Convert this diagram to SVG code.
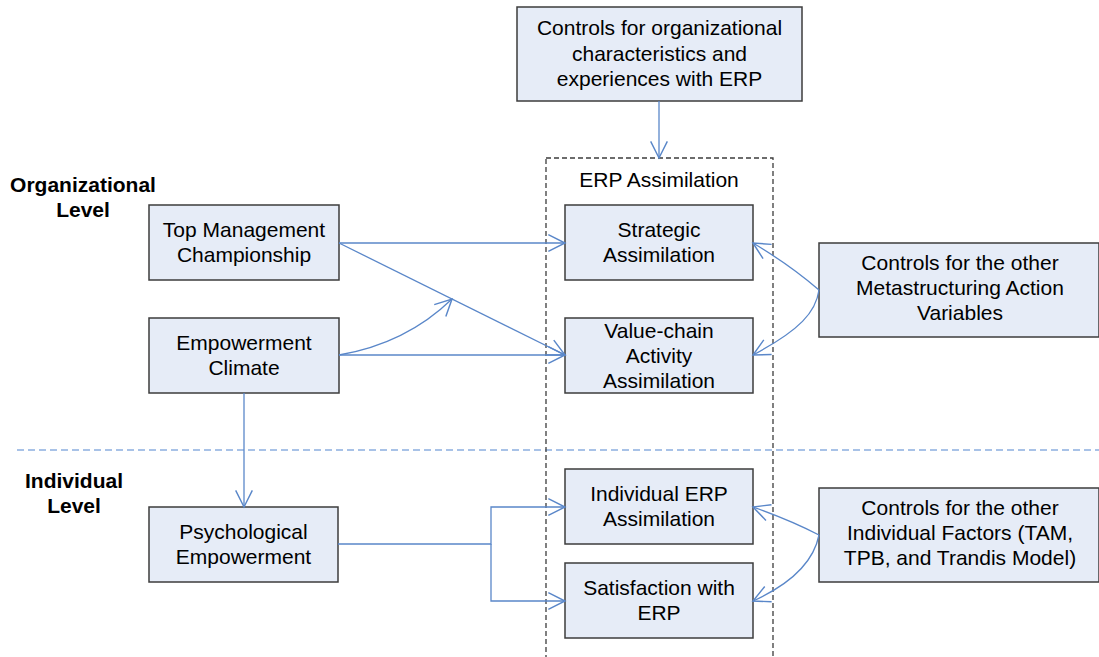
<svg xmlns="http://www.w3.org/2000/svg" width="1099" height="657" viewBox="0 0 1099 657">
  <defs>
    <marker id="arrow" markerUnits="userSpaceOnUse" markerWidth="20" markerHeight="20" viewBox="-16 -9 18 18" refX="0" refY="0" orient="auto">
      <path d="M-15,-7.5 L0,0 L-15,7.5" fill="none" stroke="#5A87C9" stroke-width="1.3"/>
    </marker>
    <style>
      .node { fill: #E6ECF7; stroke: #3C3C3C; stroke-width: 1.5; }
      .label { font-family: "Liberation Sans", Arial, sans-serif; font-size: 21px; fill: #000; text-anchor: middle; }
      .level { font-family: "Liberation Sans", Arial, sans-serif; font-size: 21px; font-weight: bold; fill: #000; text-anchor: middle; }
      .edge { fill: none; stroke: #5A87C9; stroke-width: 1.3; }
      .arrowed { marker-end: url(#arrow); }
      .container { fill: none; stroke: #3C3C3C; stroke-width: 1.3; stroke-dasharray: 5 3; }
      .divider { fill: none; stroke: #8CAEE0; stroke-width: 1.5; stroke-dasharray: 7 4; }
    </style>
  </defs>

  <rect width="1099" height="657" fill="#FFFFFF"/>

  <!-- level labels -->
  <g id="level-labels">
    <text class="level" x="83" y="192">Organizational</text>
    <text class="level" x="83" y="217">Level</text>
    <text class="level" x="74" y="488">Individual</text>
    <text class="level" x="74" y="513">Level</text>
  </g>

  <!-- divider between the two levels -->
  <line class="divider" x1="17" y1="450" x2="1099" y2="450"/>

  <!-- ERP assimilation container -->
  <g id="erp-assimilation">
    <rect class="container" x="546" y="158" width="227" height="520"/>
    <text class="label" x="659" y="187">ERP Assimilation</text>
  </g>

  <g id="org-controls">
    <rect class="node" x="517" y="7" width="285" height="94"/>
    <text class="label" x="659.5" y="35">Controls for organizational</text>
    <text class="label" x="659.5" y="60.5">characteristics and</text>
    <text class="label" x="659.5" y="86">experiences with ERP</text>
  </g>

  <g id="top-management">
    <rect class="node" x="149" y="205" width="190" height="75"/>
    <text class="label" x="244" y="237">Top Management</text>
    <text class="label" x="244" y="261.5">Championship</text>
  </g>

  <g id="empowerment-climate">
    <rect class="node" x="149" y="318" width="190" height="75"/>
    <text class="label" x="244" y="350">Empowerment</text>
    <text class="label" x="244" y="374.5">Climate</text>
  </g>

  <g id="psychological-empowerment">
    <rect class="node" x="149" y="507" width="189" height="75"/>
    <text class="label" x="243.5" y="539">Psychological</text>
    <text class="label" x="243.5" y="563.5">Empowerment</text>
  </g>

  <g id="strategic-assimilation">
    <rect class="node" x="565" y="205" width="188" height="75"/>
    <text class="label" x="659" y="237">Strategic</text>
    <text class="label" x="659" y="261.5">Assimilation</text>
  </g>

  <g id="value-chain-assimilation">
    <rect class="node" x="565" y="318" width="188" height="75"/>
    <text class="label" x="659" y="337.5">Value-chain</text>
    <text class="label" x="659" y="362.5">Activity</text>
    <text class="label" x="659" y="387.5">Assimilation</text>
  </g>

  <g id="individual-erp-assimilation">
    <rect class="node" x="565" y="469" width="188" height="75"/>
    <text class="label" x="659" y="501">Individual ERP</text>
    <text class="label" x="659" y="525.5">Assimilation</text>
  </g>

  <g id="satisfaction-with-erp">
    <rect class="node" x="565" y="563" width="188" height="75"/>
    <text class="label" x="659" y="595">Satisfaction with</text>
    <text class="label" x="659" y="619.5">ERP</text>
  </g>

  <g id="metastructuring-controls">
    <rect class="node" x="819" y="243" width="280" height="94"/>
    <text class="label" x="960" y="270">Controls for the other</text>
    <text class="label" x="960" y="295">Metastructuring Action</text>
    <text class="label" x="960" y="320">Variables</text>
  </g>

  <g id="individual-controls">
    <rect class="node" x="819" y="488" width="280" height="94"/>
    <text class="label" x="960" y="515">Controls for the other</text>
    <text class="label" x="960" y="540">Individual Factors (TAM,</text>
    <text class="label" x="960" y="565">TPB, and Trandis Model)</text>
  </g>

  <!-- connectors -->
  <g id="connectors">
    <path class="edge arrowed" d="M659,101 L659,158"/>
    <path class="edge arrowed" d="M339,243 L565,243"/>
    <path class="edge arrowed" d="M339,243 L565,355"/>
    <path class="edge arrowed" d="M339,355 L565,355"/>
    <path class="edge arrowed" d="M339,355 C380,348 420,330 452,299"/>
    <path class="edge arrowed" d="M244,393 L244,507"/>
    <path class="edge arrowed" d="M338,544 L491,544 L491,507 L565,507"/>
    <path class="edge arrowed" d="M491,544 L491,601 L565,601"/>
    <path class="edge arrowed" d="M819,290 Q790,265 753,243"/>
    <path class="edge arrowed" d="M819,290 C816,312 800,330 753,355"/>
    <path class="edge arrowed" d="M819,535 Q790,520 753,507"/>
    <path class="edge arrowed" d="M819,535 C814,560 795,582 753,601"/>
  </g>
</svg>
